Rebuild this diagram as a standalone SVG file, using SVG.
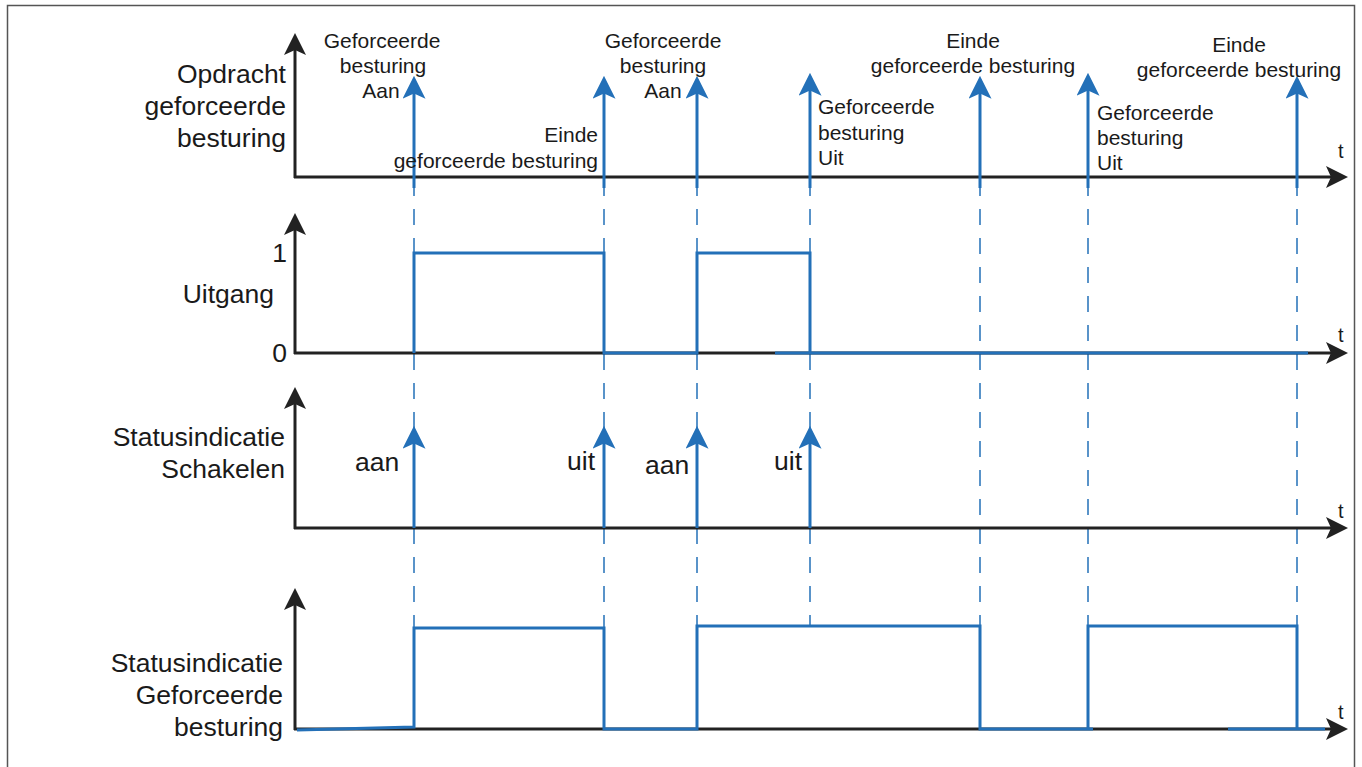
<svg xmlns="http://www.w3.org/2000/svg" width="1362" height="767" viewBox="0 0 1362 767">
<style>
.lbl{font-family:"Liberation Sans",Arial,sans-serif;font-size:26.5px;fill:#1a1a1a}
.sm{font-family:"Liberation Sans",Arial,sans-serif;font-size:21px;fill:#1a1a1a}
.tl{font-family:"Liberation Sans",Arial,sans-serif;font-size:20px;fill:#1a1a1a}
.axa{stroke:#222;stroke-width:3;fill:none;marker-end:url(#ka)}
.sig{stroke:#2370b8;stroke-width:3;fill:none}
.arr{stroke:#2370b8;stroke-width:3;fill:none;marker-end:url(#ba)}
.dash{stroke:#2370b8;stroke-width:1.5;fill:none;stroke-dasharray:16 13}
</style>
<defs>
<marker id="ba" viewBox="0 0 22 22" markerWidth="23" markerHeight="23" refX="18" refY="11" orient="auto" markerUnits="userSpaceOnUse">
<path d="M22,11 L0,0 L5,11 L0,22 Z" fill="#2370b8"/>
</marker>
<marker id="ka" viewBox="0 0 22 22" markerWidth="22" markerHeight="22" refX="18" refY="11" orient="auto" markerUnits="userSpaceOnUse">
<path d="M22,11 L0,0 L5,11 L0,22 Z" fill="#222"/>
</marker>
</defs>
<rect x="0" y="0" width="1362" height="767" fill="#fff"/>
<rect x="7.5" y="5.5" width="1347" height="800" fill="none" stroke="#555" stroke-width="1.5"/>

<g id="connectors">
<line class="dash" x1="414" y1="180" x2="414" y2="628"/>
<line class="dash" x1="604" y1="180" x2="604" y2="628"/>
<line class="dash" x1="697" y1="180" x2="697" y2="628"/>
<line class="dash" x1="810" y1="180" x2="810" y2="626"/>
<line class="dash" x1="980" y1="180" x2="980" y2="628"/>
<line class="dash" x1="1088" y1="180" x2="1088" y2="628"/>
<line class="dash" x1="1297" y1="180" x2="1297" y2="628"/>
</g>

<g id="panel-opdracht">
<line class="axa" x1="295" y1="178" x2="295" y2="37"/>
<line class="axa" x1="294" y1="177" x2="1344" y2="177"/>
<text class="lbl" text-anchor="end" x="286" y="83">Opdracht</text>
<text class="lbl" text-anchor="end" x="286" y="115">geforceerde</text>
<text class="lbl" text-anchor="end" x="286" y="147">besturing</text>
<text class="tl" x="1338" y="158">t</text>
<line class="arr" x1="414" y1="188" x2="414" y2="80"/>
<line class="arr" x1="604" y1="188" x2="604" y2="80"/>
<line class="arr" x1="697" y1="188" x2="697" y2="80"/>
<line class="arr" x1="810" y1="188" x2="810" y2="77"/>
<line class="arr" x1="980" y1="188" x2="980" y2="80"/>
<line class="arr" x1="1088" y1="188" x2="1088" y2="77"/>
<line class="arr" x1="1297" y1="188" x2="1297" y2="80"/>
<text class="sm" text-anchor="middle" x="382" y="48">Geforceerde</text>
<text class="sm" text-anchor="middle" x="383" y="73">besturing</text>
<text class="sm" text-anchor="middle" x="381" y="98">Aan</text>
<text class="sm" text-anchor="end" x="598" y="142">Einde</text>
<text class="sm" text-anchor="end" x="598" y="168">geforceerde besturing</text>
<text class="sm" text-anchor="middle" x="663" y="48">Geforceerde</text>
<text class="sm" text-anchor="middle" x="663" y="73">besturing</text>
<text class="sm" text-anchor="middle" x="663" y="98">Aan</text>
<text class="sm" x="818" y="114">Geforceerde</text>
<text class="sm" x="818" y="140">besturing</text>
<text class="sm" x="818" y="165">Uit</text>
<text class="sm" text-anchor="middle" x="973" y="48">Einde</text>
<text class="sm" text-anchor="middle" x="973" y="73">geforceerde besturing</text>
<text class="sm" x="1097" y="120">Geforceerde</text>
<text class="sm" x="1097" y="145">besturing</text>
<text class="sm" x="1097" y="170">Uit</text>
<text class="sm" text-anchor="middle" x="1239" y="52">Einde</text>
<text class="sm" text-anchor="middle" x="1239" y="77">geforceerde besturing</text>
</g>

<g id="panel-uitgang">
<line class="axa" x1="295" y1="354" x2="295" y2="217"/>
<line class="axa" x1="294" y1="353" x2="1344" y2="353"/>
<text class="lbl" text-anchor="end" x="287" y="262">1</text>
<text class="lbl" text-anchor="end" x="274" y="303">Uitgang</text>
<text class="lbl" text-anchor="end" x="287" y="362">0</text>
<text class="tl" x="1338" y="342">t</text>
<path class="sig" d="M414,353 V253 H604 V353 H697 V253 H810 V353"/>
<line class="sig" x1="775" y1="353" x2="1308" y2="353"/>
</g>

<g id="panel-schakelen">
<line class="axa" x1="295" y1="529" x2="295" y2="391"/>
<line class="axa" x1="294" y1="528" x2="1344" y2="528"/>
<text class="lbl" text-anchor="end" x="285" y="446">Statusindicatie</text>
<text class="lbl" text-anchor="end" x="285" y="478">Schakelen</text>
<text class="tl" x="1338" y="518">t</text>
<line class="arr" x1="414" y1="528" x2="414" y2="430"/>
<line class="arr" x1="604" y1="528" x2="604" y2="430"/>
<line class="arr" x1="697" y1="528" x2="697" y2="430"/>
<line class="arr" x1="810" y1="528" x2="810" y2="430"/>
<text class="lbl" x="355" y="471">aan</text>
<text class="lbl" text-anchor="end" x="595" y="470">uit</text>
<text class="lbl" x="645" y="474">aan</text>
<text class="lbl" x="774" y="470">uit</text>
</g>

<g id="panel-geforceerd">
<line class="axa" x1="295" y1="730" x2="295" y2="592"/>
<line class="axa" x1="294" y1="729" x2="1344" y2="729"/>
<text class="lbl" text-anchor="end" x="283" y="672">Statusindicatie</text>
<text class="lbl" text-anchor="end" x="283" y="704">Geforceerde</text>
<text class="lbl" text-anchor="end" x="283" y="736">besturing</text>
<text class="tl" x="1338" y="719">t</text>
<path class="sig" d="M297,730 L414,727 V628 H604 V729 H697 V626 H980 V729 H1093"/>
<path class="sig" d="M1088,729 V626 H1297 V729"/>
<line class="sig" x1="1228" y1="729" x2="1325" y2="729"/>
</g>
</svg>
